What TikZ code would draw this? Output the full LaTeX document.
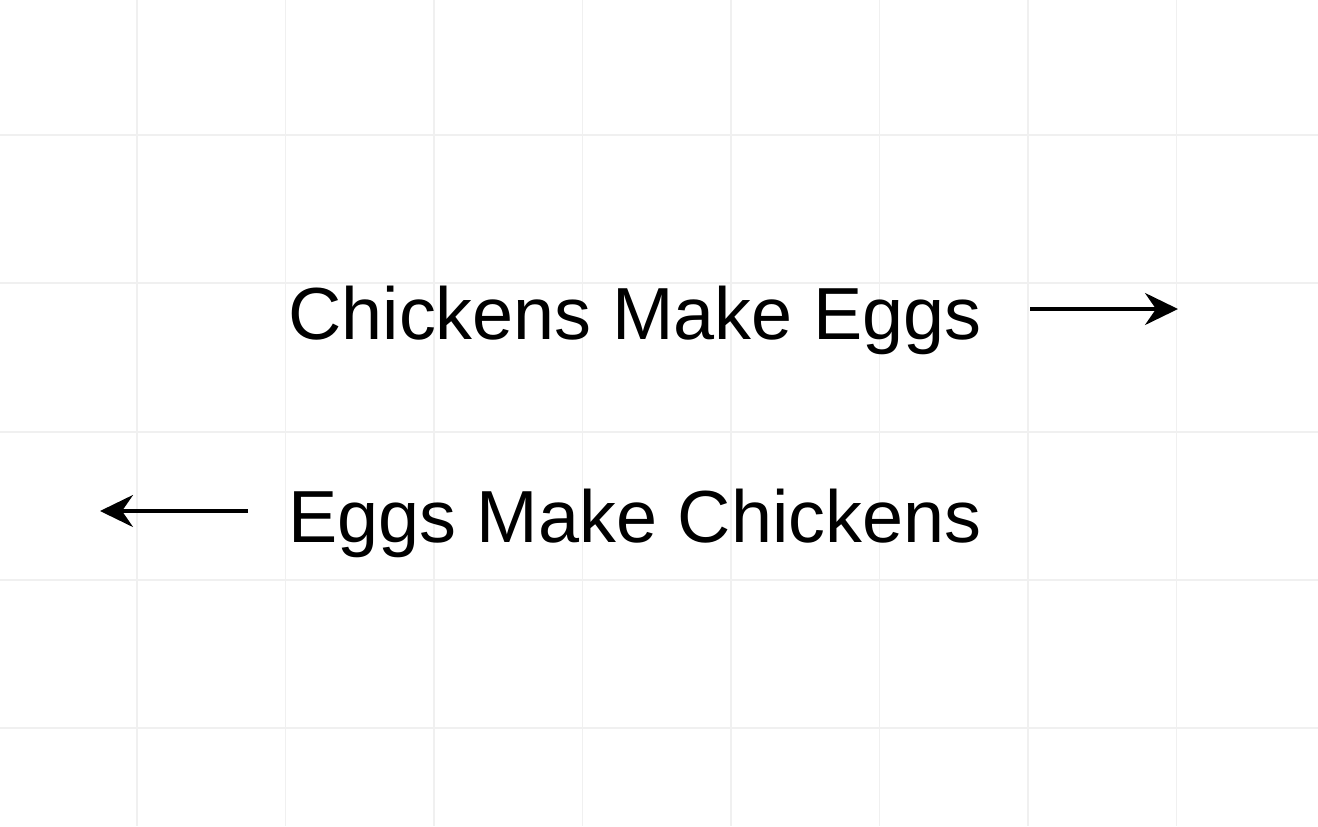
\documentclass[tikz,border=0pt]{standalone}
\usepackage{fontspec}
\setmainfont{Liberation Sans}
\usetikzlibrary{arrows.meta}
\usetikzlibrary{positioning}

\begin{document}
\begin{tikzpicture}[x=0.02cm,y=-0.02cm,every node/.style={inner sep=0pt,anchor=base west,font=\fontsize{42}{50}\selectfont},arr/.style={line width=2pt,-{Stealth[length=0.66cm,width=0.64cm,inset=0.22cm]}}]
  \useasboundingbox[fill=white](0,0) rectangle (1318,826);
  % faint grid
  \foreach \gx in {137,285.5,434,582.5,731,879.5,1028,1176.5}
    \draw[line width=0.6pt,black!6](\gx,0)--(\gx,826);
  \foreach \gy in {135,283,432,580,728}
    \draw[line width=0.6pt,black!6](0,\gy)--(1318,\gy);

  \node (chick) at (288,339){Chickens Make Eggs};
  \node (egg) at (288,542){Eggs Make Chickens};
  \coordinate (r1) at (1030,309);
  \coordinate (r2) at (1178,309);
  \coordinate (l1) at (248,511);
  \coordinate (l2) at (100,511);
  \draw[arr](r1)--(r2);
  \draw[arr](l1)--(l2);
\end{tikzpicture}
\end{document}
